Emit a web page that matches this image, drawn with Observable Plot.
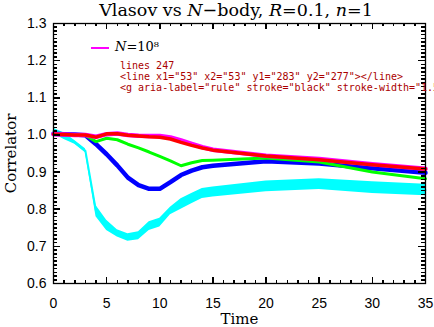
<!DOCTYPE html>
<html><head><meta charset="utf-8">
<script src="https://cdn.jsdelivr.net/npm/d3@7"></script>
<script src="https://cdn.jsdelivr.net/npm/@observablehq/plot@0.6"></script>
<style>
body{margin:0;background:#fff;}
#wrap{position:relative;width:434px;height:327px;}
#title{position:absolute;left:0;top:-1px;width:434px;text-align:center;padding-left:38px;box-sizing:border-box;font-family:"DejaVu Serif",serif;font-size:17.5px;line-height:22px;}
#dbg{position:absolute;left:120px;top:60px;font:10px monospace;color:#a00;white-space:pre;}
</style>
</head><body><div id="wrap"><div id="chart"></div><div id="title">Vlasov vs <i>N</i>−body, <i>R</i>=0.1, <i>n</i>=1</div><div id="dbg"></div></div>
<script>
const times   = [0,1,2,3,4,5,6,7,8,9,10,11,12,13,14,15,20,25,30,35];
const magenta = [1.002,1.001,1.000,1.000,0.995,1.002,1.004,1.000,0.998,0.997,0.997,0.993,0.985,0.976,0.967,0.960,0.944,0.935,0.921,0.909];
const red     = [1.002,1.001,1.000,1.000,0.994,1.003,1.003,0.999,0.997,0.995,0.994,0.989,0.980,0.972,0.965,0.959,0.943,0.933,0.920,0.908];
const green   = [1.002,1.001,1.000,0.999,0.982,0.991,0.987,0.975,0.965,0.954,0.942,0.930,0.917,0.925,0.931,0.932,0.938,0.927,0.900,0.882];
const blue    = [1.003,1.002,1.001,0.999,0.975,0.948,0.918,0.885,0.865,0.855,0.855,0.873,0.892,0.904,0.913,0.917,0.929,0.923,0.910,0.898];
const cyanLo  = [1.003,0.988,0.975,0.952,0.780,0.743,0.725,0.714,0.718,0.743,0.752,0.785,0.800,0.815,0.829,0.833,0.847,0.853,0.842,0.836];
const cyanHi  = [1.018,1.005,0.985,0.963,0.810,0.770,0.745,0.734,0.739,0.766,0.776,0.805,0.828,0.842,0.856,0.860,0.876,0.882,0.874,0.867];
const xMajor = [0,5,10,15,20,25,30,35];
const yMajor = [0.6,0.7,0.8,0.9,1.0,1.1,1.2,1.3];
const legendLabel = "=10⁸";

const rows = (arr) => times.map((t,i)=>({t, v: arr[i]}));
const cyanRows = times.map((t,i)=>({t, lo: cyanLo[i], hi: cyanHi[i], mid:(cyanLo[i]+cyanHi[i])/2}));
const xMinor = d3.range(0,36,1);
const yMinor = d3.range(60,131,1).map(d=>d/100);

const W = 434, H = 327, ML = 53, MR = 9, MT = 23, MB = 44;
const FW = W - ML - MR, FH = H - MT - MB;
const X0 = 0, X1 = 35, Y0 = 0.6, Y1 = 1.3;
const yPerPx = (Y1 - Y0) / FH, xPerPx = (X1 - X0) / FW;
const serif = "DejaVu Serif";
const sans = "Liberation Sans";
const tickStyle = {stroke: "black", strokeWidth: 1.5, shapeRendering: "crispEdges"};
const xt = (ticks, size) => [
  Plot.ruleX(ticks, {x: d => d, y1: Y0, y2: Y0 + size * yPerPx, ...tickStyle}),
  Plot.ruleX(ticks, {x: d => d, y1: Y1 - size * yPerPx, y2: Y1, ...tickStyle})
];
const yt = (ticks, size) => [
  Plot.ruleY(ticks, {y: d => d, x1: X0, x2: X0 + size * xPerPx, ...tickStyle}),
  Plot.ruleY(ticks, {y: d => d, x1: X1 - size * xPerPx, x2: X1, ...tickStyle})
];
const plot = Plot.plot({
  width: W, height: H,
  marginLeft: ML, marginRight: MR, marginTop: MT, marginBottom: MB,
  style: {fontFamily: sans, fontSize: "14px", background: "#fff", color: "black"},
  x: {domain: [X0, X1]},
  y: {domain: [Y0, Y1]},
  marks: [
    Plot.areaY(cyanRows, {x:"t", y1:"lo", y2:"hi", fill:"#00ffff"}),
    Plot.line(cyanRows, {x:"t", y:"mid", stroke:"#00ffff", strokeWidth:2}),
    Plot.line(rows(blue), {x:"t", y:"v", stroke:"#0000ff", strokeWidth:4.5}),
    Plot.line(rows(green), {x:"t", y:"v", stroke:"#00ff00", strokeWidth:3}),
    Plot.line(rows(magenta), {x:"t", y:"v", stroke:"#ff00ff", strokeWidth:4.5}),
    Plot.line(rows(red), {x:"t", y:"v", stroke:"#ff0000", strokeWidth:3.5}),
    ...xt(xMajor, 6), ...xt(xMinor, 3),
    ...yt(yMajor, 7), ...yt(yMinor, 4),
    Plot.frame({stroke:"black", strokeWidth:1.3}),
    Plot.axisX(xMajor, {anchor:"bottom", tickSize:0, tickPadding:15, tickFormat:d=>String(d), fontSize:14, label:null}),
    Plot.axisY(yMajor, {anchor:"left", tickSize:0, tickPadding:7, tickFormat:d=>d.toFixed(1), fontSize:14, label:null}),
    Plot.axisX({anchor:"bottom", ticks:[], label:"Time", labelAnchor:"center", labelArrow:"none", labelOffset:40, fontFamily:serif, fontSize:15}),
    Plot.axisY({anchor:"left", ticks:[], label:"Correlator", labelAnchor:"center", labelArrow:"none", labelOffset:48, fontFamily:serif, fontSize:15})
  ]
});
document.getElementById("chart").appendChild(plot);

const svg = d3.select(plot);
const lg = svg.append("g");
lg.append("line").attr("x1",91).attr("x2",109).attr("y1",48).attr("y2",48).attr("stroke","#ff00ff").attr("stroke-width",2);
const lt = lg.append("text").attr("x",115).attr("y",51).attr("text-anchor","start").attr("font-family",serif).attr("font-size",13);
lt.append("tspan").attr("font-style","italic").text("N");
lt.append("tspan").text(legendLabel);

// debug
const ls = plot.querySelectorAll("line");
const f = ls[0];
const g = f ? f.parentNode : null;
document.getElementById("dbg").textContent =
  "lines " + ls.length + "\n" + (f ? f.outerHTML.slice(0,120) : "") + "\n" + (g ? g.outerHTML.slice(0,200).replace(/<line[\s\S]*/,"") : "");
</script>
</body></html>
